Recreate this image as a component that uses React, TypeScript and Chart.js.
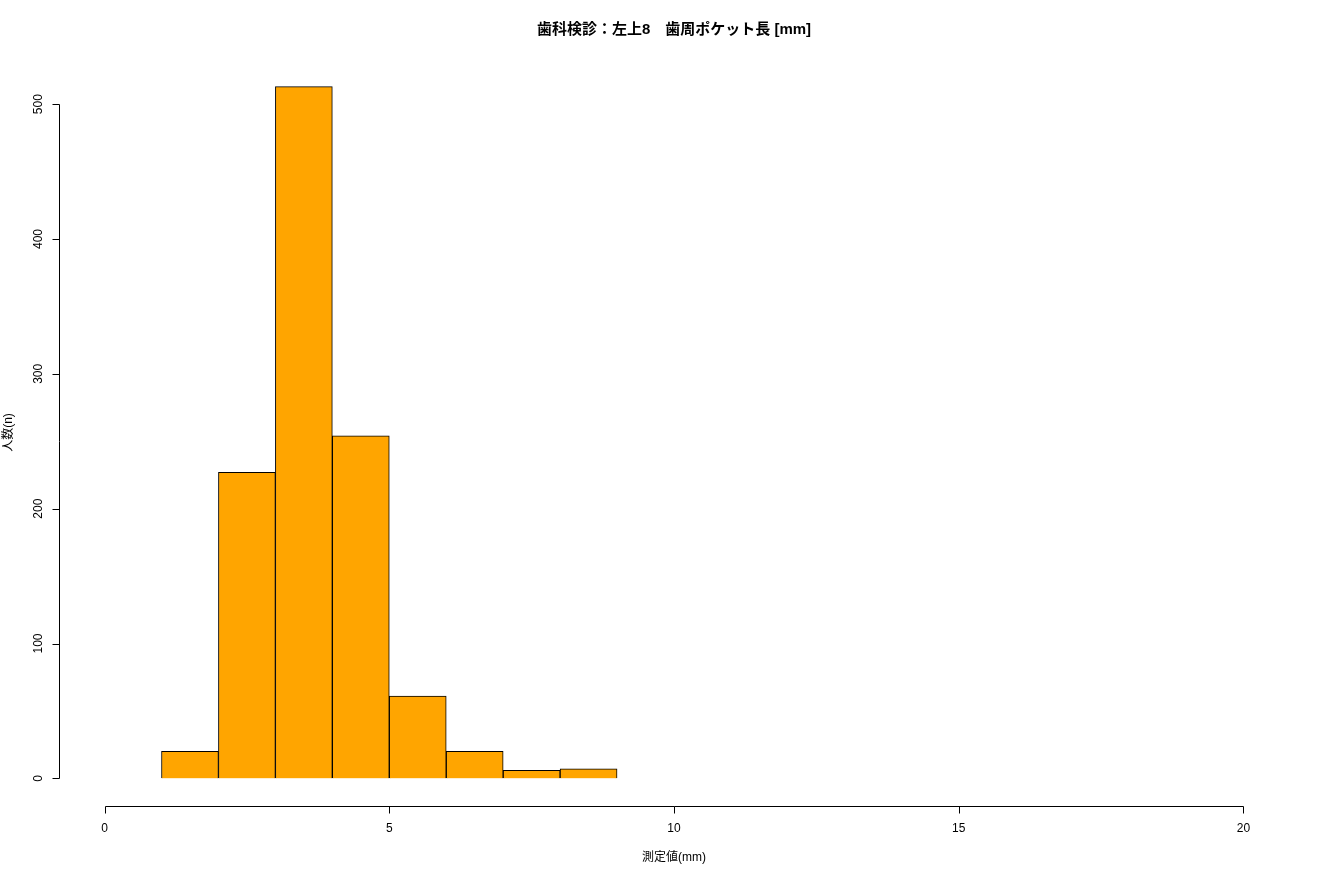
import React, { useEffect, useRef } from "react";
import { Chart, registerables } from "chart.js";

Chart.register(...registerables);

const binStarts = [1, 2, 3, 4, 5, 6, 7, 8];
const counts = [20, 227, 513, 254, 61, 20, 6, 7];
const xTicks = [0, 5, 10, 15, 20];
const yTicks = [0, 100, 200, 300, 400, 500];
const titleText = "歯科検診：左上8　歯周ポケット長 [mm]";
const xTitle = "測定値(mm)";
const yTitle = "人数(n)";

const FONT = '"Liberation Sans", Arial, "Noto Sans CJK JP", sans-serif';

const rAxesPlugin = {
  id: "rAxes",
  afterDraw(chart: any) {
    const ctx = chart.ctx;
    const xs = chart.scales.x;
    const ys = chart.scales.y;
    const area = chart.chartArea;
    ctx.save();
    ctx.strokeStyle = "#000";
    ctx.fillStyle = "#000";
    ctx.lineWidth = 1;
    // x axis
    const yb = Math.round(area.bottom) + 0.5;
    const x0 = Math.round(xs.getPixelForValue(xTicks[0])) + 0.5;
    const x1 = Math.round(xs.getPixelForValue(xTicks[xTicks.length - 1])) + 0.5;
    ctx.beginPath();
    ctx.moveTo(x0, yb);
    ctx.lineTo(x1, yb);
    xTicks.forEach((t) => {
      const px = Math.round(xs.getPixelForValue(t)) + 0.5;
      ctx.moveTo(px, yb);
      ctx.lineTo(px, yb + 7);
    });
    ctx.stroke();
    ctx.font = "12px " + FONT;
    ctx.textAlign = "center";
    ctx.textBaseline = "middle";
    xTicks.forEach((t) => {
      ctx.fillText(String(t), xs.getPixelForValue(t), yb + 22);
    });
    // y axis
    const xl = Math.round(area.left) + 0.5;
    const y0 = Math.round(ys.getPixelForValue(yTicks[0])) + 0.5;
    const y1 = Math.round(ys.getPixelForValue(yTicks[yTicks.length - 1])) + 0.5;
    ctx.beginPath();
    ctx.moveTo(xl, y0);
    ctx.lineTo(xl, y1);
    yTicks.forEach((t) => {
      const py = Math.round(ys.getPixelForValue(t)) + 0.5;
      ctx.moveTo(xl, py);
      ctx.lineTo(xl - 7, py);
    });
    ctx.stroke();
    yTicks.forEach((t) => {
      ctx.save();
      ctx.translate(xl - 21, ys.getPixelForValue(t));
      ctx.rotate(-Math.PI / 2);
      ctx.fillText(String(t), 0, 0);
      ctx.restore();
    });
    // titles
    const cx = (area.left + area.right) / 2;
    const cy = (area.top + area.bottom) / 2;
    ctx.fillText(xTitle, cx, area.bottom + 52);
    ctx.save();
    ctx.translate(area.left - 50, cy);
    ctx.rotate(-Math.PI / 2);
    ctx.fillText(yTitle, 0, 0);
    ctx.restore();
    ctx.font = "bold 15px " + FONT;
    ctx.fillText(titleText, cx, 30);
    ctx.restore();
  },
};

export default function App() {
  const ref = useRef<HTMLCanvasElement>(null);
  useEffect(() => {
    document.body.style.margin = "0";
    const canvas = ref.current!;
    const chart = new Chart(canvas, {
      type: "bar",
      data: {
        datasets: [
          {
            data: binStarts.map((s, i) => ({ x: s + 0.5, y: counts[i] })),
            backgroundColor: "#FFA500",
            borderColor: "#000",
            borderWidth: 1,
            barPercentage: 1,
            categoryPercentage: 1,
          },
        ],
      },
      options: {
        responsive: false,
        animation: false,
        layout: { padding: { left: 59, right: 31, top: 59, bottom: 74 } },
        plugins: { legend: { display: false }, tooltip: { enabled: false } },
        scales: {
          x: {
            type: "linear",
            min: -0.8,
            max: 20.8,
            display: false,
            offset: false,
            afterBuildTicks: (s: any) => {
              s.ticks = xTicks.map((v) => ({ value: v }));
            },
          },
          y: { type: "linear", min: -20.52, max: 533.52, display: false },
        },
      },
      plugins: [rAxesPlugin],
    });
    return () => chart.destroy();
  }, []);
  return (
    <div style={{ position: "fixed", left: 0, top: 0, width: 1320, height: 880, background: "#fff" }}>
      <canvas ref={ref} width={1320} height={880} />
    </div>
  );
}
